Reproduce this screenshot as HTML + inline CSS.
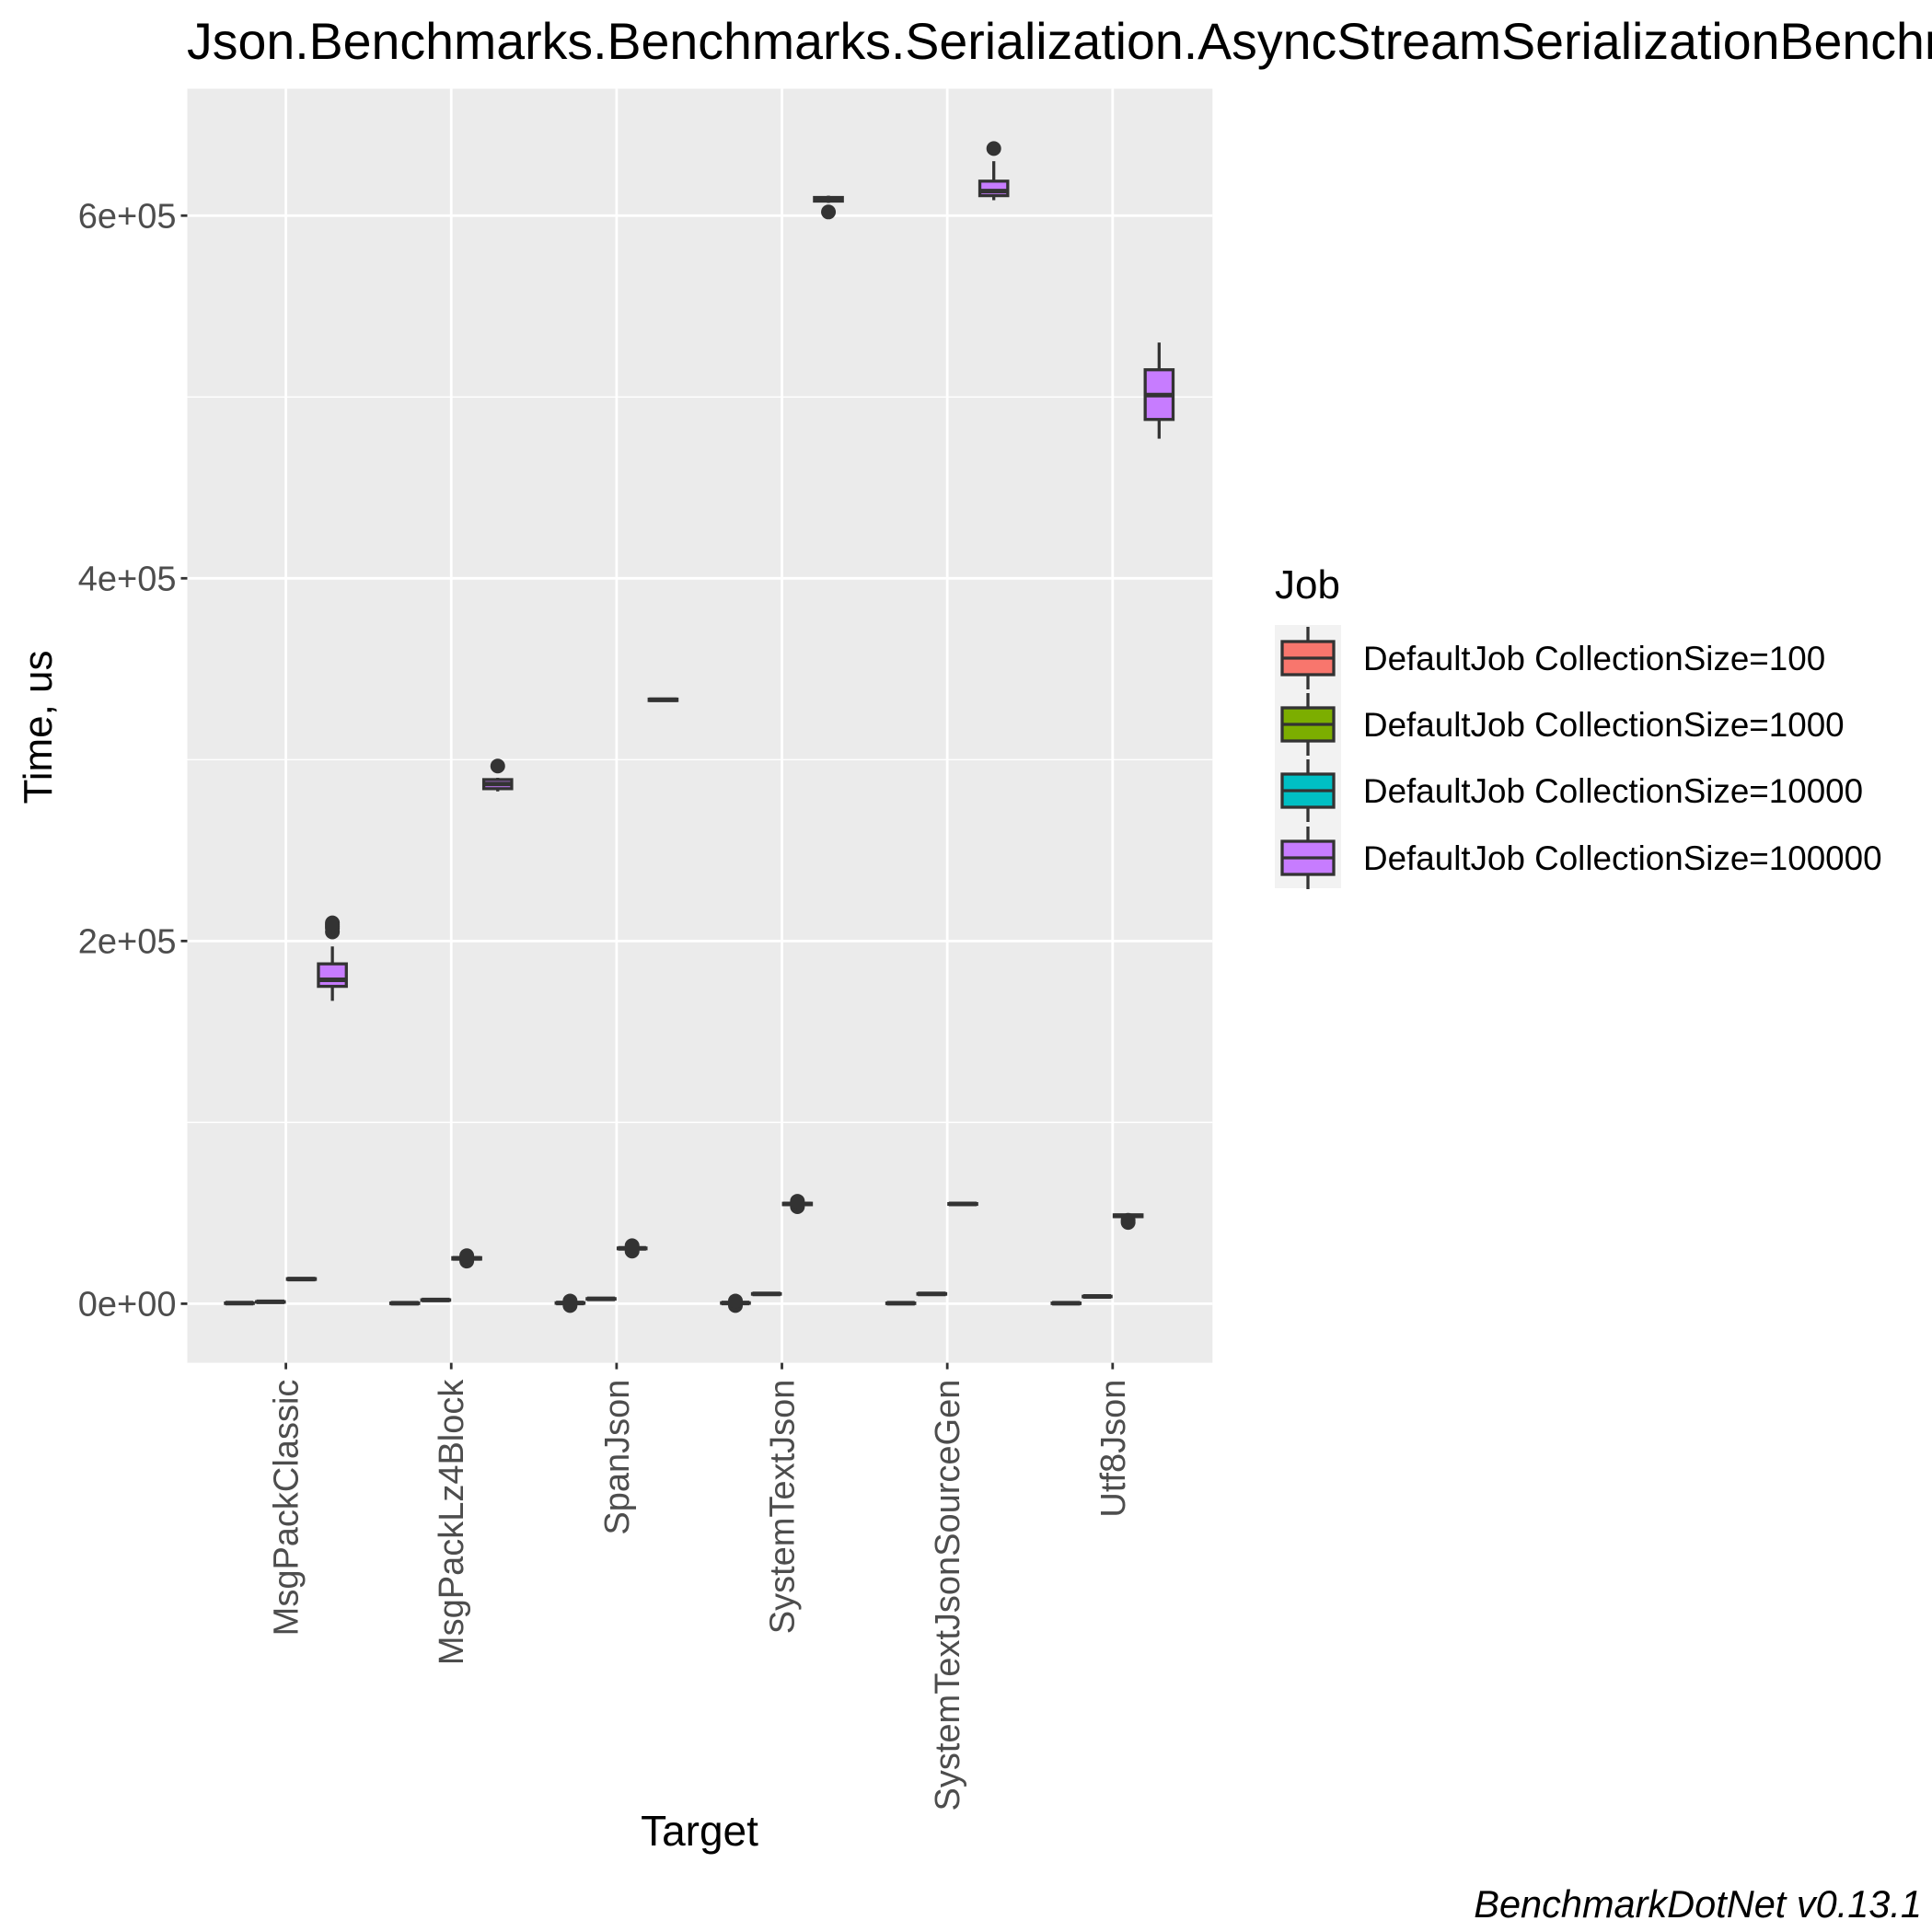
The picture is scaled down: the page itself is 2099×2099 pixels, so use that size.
<!DOCTYPE html>
<html><head><meta charset="utf-8"><style>
html,body{margin:0;padding:0;background:#fff;overflow:hidden}
svg{display:block;font-family:"Liberation Sans",Arial,sans-serif}
</style></head><body>
<svg id="chart" width="2099" height="2099" viewBox="0 0 2099 2099">
<text x="203" y="64" font-size="55.5" fill="#000">Json.Benchmarks.Benchmarks.Serialization.AsyncStreamSerializationBenchmarks</text>
<rect x="203.5" y="96.4" width="1113.8" height="1384.2" fill="#ebebeb"/>
<g id="grid"></g>
<g id="marks"></g>
<g id="axes"></g>
<text transform="translate(56,790) rotate(-90)" text-anchor="middle" font-size="44" fill="#000">Time, us</text>
<text x="760" y="2005" text-anchor="middle" font-size="46" fill="#000">Target</text>
<text x="2088" y="2083" text-anchor="end" font-size="41.5" font-style="italic" fill="#000">BenchmarkDotNet v0.13.1</text>
<g id="legend">
<text x="1385" y="650" font-size="44" fill="#000">Job</text>
<rect x="1385" y="679" width="72" height="286" fill="#f2f2f2"/>
</g>
</svg>
<script>
const categories = ["MsgPackClassic","MsgPackLz4Block","SpanJson","SystemTextJson","SystemTextJsonSourceGen","Utf8Json"];
const jobs = ["DefaultJob CollectionSize=100","DefaultJob CollectionSize=1000","DefaultJob CollectionSize=10000","DefaultJob CollectionSize=100000"];
const colors = ["#F8766D","#7CAE00","#00BFC4","#C77CFF"];
const yTicks = [0,200000,400000,600000];
const yTickLabels = ["0e+00","2e+05","4e+05","6e+05"];
const yMinor = [100000,300000,500000];
// per category, per job: [lowWhisker, q1, median, q3, highWhisker]
const stats = [
 [[0,200,300,400,600],[900,1000,1050,1100,1200],[13000,13400,13600,13800,14200],[167000,175000,178600,187400,197000]],
 [[0,150,250,350,500],[1800,1950,2050,2150,2300],[24000,24600,25000,25400,26000],[282500,284000,286600,289000,290000]],
 [[0,300,400,500,700],[2400,2600,2700,2800,3000],[30000,30300,30500,30700,31000],[332200,332600,333000,333400,333800]],
 [[0,300,400,500,700],[5000,5250,5400,5550,5800],[54000,54600,55000,55400,56000],[607000,608000,609000,610000,611000]],
 [[0,150,250,350,500],[5000,5250,5400,5550,5800],[54500,54800,55000,55200,55500],[608500,611000,613500,619000,630000]],
 [[0,150,250,350,500],[3700,3900,4000,4100,4300],[46000,48000,48500,49000,49500],[477000,487600,501000,515000,530000]]
];
const outliers = [
 [[],[],[],[205000,207000,208000,209000,210000]],
 [[],[],[23500,26500],[296500]],
 [[-1000,1500],[],[29000,32000],[]],
 [[-1000,1500],[],[53500,56500],[602000]],
 [[],[],[],[637000]],
 [[],[],[44800,46000],[]]
];
const NS="http://www.w3.org/2000/svg";
const PL=203.5, PR=1317.3, PT=96.4, PB=1480.6;
const Y0=1416.4, PER=394.05/200000;
function yScale(v){return Y0 - v*PER;}
const X0=310.6, XSTEP=179.64;
function xScale(i){return X0 + i*XSTEP;}
const dodge=0.75*XSTEP/jobs.length;
function xJob(i,j){return xScale(i) + (j-(jobs.length-1)/2)*dodge;}
function mk(tag,attrs,parent){const e=document.createElementNS(NS,tag);for(const k in attrs)e.setAttribute(k,attrs[k]);parent.appendChild(e);return e;}
const grid=document.getElementById('grid'), marks=document.getElementById('marks'), axes=document.getElementById('axes');
yMinor.forEach(v=>{const l=mk('line',{x1:PL,x2:PR,y1:yScale(v),y2:yScale(v),stroke:'#fff','stroke-width':1.4},grid);

});
yTicks.forEach((v,k)=>{const y=yScale(v);
const l=mk('line',{x1:PL,x2:PR,y1:y,y2:y,stroke:'#fff','stroke-width':2.8},grid);


const t=mk('line',{x1:PL-7,x2:PL,y1:y,y2:y,stroke:'#333','stroke-width':2.8},axes);


const tx=mk('text',{x:PL-12,y:y+13,'text-anchor':'end','font-size':38,fill:'#4d4d4d'},axes);tx.textContent=yTickLabels[k];

});
categories.forEach((c,i)=>{const x=xScale(i);
const l=mk('line',{x1:x,x2:x,y1:PT,y2:PB,stroke:'#fff','stroke-width':2.8},grid);


const t=mk('line',{x1:x,x2:x,y1:PB,y2:PB+7,stroke:'#333','stroke-width':2.8},axes);


const tx=mk('text',{transform:`translate(${x+13},${PB+18}) rotate(-90)`,'text-anchor':'end','font-size':38,fill:'#4d4d4d'},axes);tx.textContent=c;

});
const BW=dodge*0.9;
function drawBox(cx,s,fill,parent){
 const g=mk('g',{},parent);
 const [lo,q1,md,q3,hi]=s;
 const yq1=yScale(q1), yq3=yScale(q3);
 mk('line',{x1:cx,x2:cx,y1:yScale(hi),y2:yq3,stroke:'#333','stroke-width':3.3},g);
 mk('line',{x1:cx,x2:cx,y1:yq1,y2:yScale(lo),stroke:'#333','stroke-width':3.3},g);
 mk('rect',{x:cx-BW/2,y:yq3,width:BW,height:Math.max(yq1-yq3,0.5),fill:fill,stroke:'#333','stroke-width':3.3},g);
 mk('line',{x1:cx-BW/2,x2:cx+BW/2,y1:yScale(md),y2:yScale(md),stroke:'#333','stroke-width':5},g);
 return g;
}
categories.forEach((c,i)=>{jobs.forEach((j,k)=>{
 const g=drawBox(xJob(i,k),stats[i][k],colors[k],marks);
 
 
 outliers[i][k].forEach(v=>{const p=mk('circle',{cx:xJob(i,k),cy:yScale(v),r:8,fill:'#333'},marks);
 
 });
});});
const leg=document.getElementById('legend');
const keyY=[715,787,859,932];
jobs.forEach((j,k)=>{const cy=keyY[k], cx=1421;
 const g=mk('g',{},leg);
 
 
 mk('line',{x1:cx,x2:cx,y1:cy-34,y2:cy+34,stroke:'#333','stroke-width':3.3},g);
 mk('rect',{x:1393,y:cy-18,width:56,height:36,fill:colors[k],stroke:'#333','stroke-width':3.3},g);
 mk('line',{x1:1393,x2:1449,y1:cy,y2:cy,stroke:'#333','stroke-width':3.3},g);
 const t=mk('text',{x:1481,y:cy+13,'font-size':36.8,fill:'#000'},g);t.textContent=j;
});
</script>
</body></html>
